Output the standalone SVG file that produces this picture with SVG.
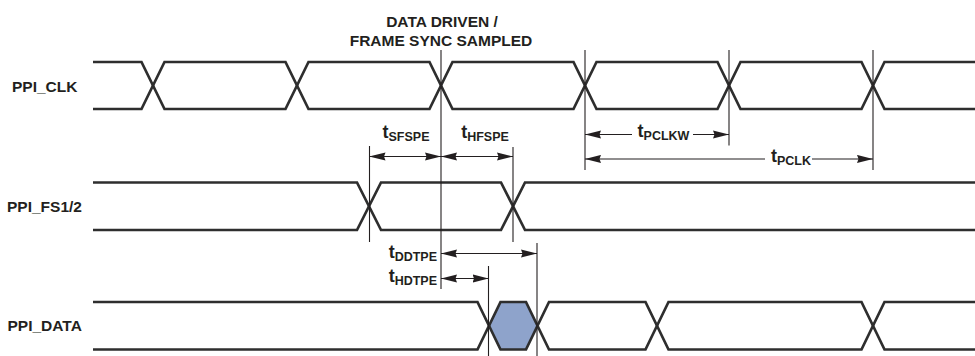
<svg xmlns="http://www.w3.org/2000/svg" width="975" height="356" viewBox="0 0 975 356">
  <style>
    text { font-family: "Liberation Sans", Arial, sans-serif; font-weight: bold; fill: #231f20; }
    .lbl { font-size: 15.5px; }
    .t { font-size: 18px; }
    .sub { font-size: 12.5px; }
    .wave { fill: none; stroke: #2e2e2e; stroke-width: 2.7; stroke-linejoin: miter; }
    .ref { fill: none; stroke: #231f20; stroke-width: 1.1; }
    .dim { fill: none; stroke: #231f20; stroke-width: 1.1; marker-start: url(#ah); marker-end: url(#ah); }
    .dimL { fill: none; stroke: #231f20; stroke-width: 1.1; marker-start: url(#ah); }
    .dimR { fill: none; stroke: #231f20; stroke-width: 1.1; marker-end: url(#ah); }
  </style>
  <defs>
    <marker id="ah" viewBox="0 -4.5 16 9" refX="16" refY="0" markerWidth="16" markerHeight="9" markerUnits="userSpaceOnUse" orient="auto-start-reverse">
      <path d="M0,-4.1 L16,0 L0,4.1 L1.5,0 Z" fill="#231f20"/>
    </marker>
  </defs>
  <rect width="975" height="356" fill="#ffffff"/>

  <g id="title">
    <text class="lbl" x="442" y="26.5" text-anchor="middle">DATA DRIVEN /</text>
    <text class="lbl" x="441" y="45.5" text-anchor="middle">FRAME SYNC SAMPLED</text>
  </g>

  <g id="ppi-clk">
    <text class="lbl" x="12" y="91.5">PPI_CLK</text>
    <path class="wave" d="M93,62 H141.5 L164.5,109 H285.5 L308.5,62 H429.5 L452.5,109 H573.5 L596.5,62 H717.5 L740.5,109 H861.5 L884.5,62 H975"/>
    <path class="wave" d="M93,109 H141.5 L164.5,62 H285.5 L308.5,109 H429.5 L452.5,62 H573.5 L596.5,109 H717.5 L740.5,62 H861.5 L884.5,109 H975"/>
  </g>

  <g id="ppi-fs">
    <text class="lbl" x="7" y="211.7">PPI_FS1/2</text>
    <path class="wave" d="M93,182.5 H357 L381,230 H501 L525,182.5 H975"/>
    <path class="wave" d="M93,230 H357 L381,182.5 H501 L525,230 H975"/>
  </g>

  <g id="ppi-data">
    <text class="lbl" x="7.5" y="330.7">PPI_DATA</text>
    <polygon points="489,325.75 500.5,302 526,302 537.5,325.75 526,349.5 500.5,349.5" fill="#8ea3cb"/>
    <path class="wave" d="M93,302 H477.5 L500.5,349.5 H526 L549,302 H645.5 L668.5,349.5 H861.5 L884.5,302 H975"/>
    <path class="wave" d="M93,349.5 H477.5 L500.5,302 H526 L549,349.5 H645.5 L668.5,302 H861.5 L884.5,349.5 H975"/>
  </g>

  <g id="connectors">
    <line class="ref" x1="441" y1="50" x2="441" y2="289"/>
    <line class="ref" x1="369.5" y1="146" x2="369.5" y2="242"/>
    <line class="ref" x1="513" y1="147" x2="513" y2="242"/>
    <line class="ref" x1="488.5" y1="266" x2="488.5" y2="356"/>
    <line class="ref" x1="537" y1="243" x2="537" y2="356"/>
    <line class="ref" x1="585" y1="50" x2="585" y2="170"/>
    <line class="ref" x1="729" y1="50" x2="729" y2="145.5"/>
    <line class="ref" x1="873" y1="50" x2="873" y2="170"/>

    <line class="dim" x1="369.5" y1="156.5" x2="441" y2="156.5"/>
    <line class="dim" x1="441" y1="156.5" x2="513" y2="156.5"/>
    <line class="dimL" x1="585" y1="134.5" x2="632" y2="134.5"/>
    <line class="dimR" x1="693" y1="134.5" x2="729" y2="134.5"/>
    <line class="dimL" x1="585" y1="159" x2="765" y2="159"/>
    <line class="dimR" x1="812" y1="159" x2="873" y2="159"/>
    <line class="dim" x1="441" y1="253.5" x2="537" y2="253.5"/>
    <line class="dim" x1="441" y1="278.5" x2="488.5" y2="278.5"/>
  </g>

  <g id="timing-labels">
    <text x="406" y="137.5" text-anchor="middle"><tspan class="t">t</tspan><tspan class="sub" dy="3.5">SFSPE</tspan></text>
    <text x="485" y="137.5" text-anchor="middle"><tspan class="t">t</tspan><tspan class="sub" dy="3.5">HFSPE</tspan></text>
    <text x="663.5" y="136.5" text-anchor="middle"><tspan class="t">t</tspan><tspan class="sub" dy="3">PCLKW</tspan></text>
    <text x="791" y="161.5" text-anchor="middle"><tspan class="t">t</tspan><tspan class="sub" dy="3">PCLK</tspan></text>
    <text x="437" y="258" text-anchor="end"><tspan class="t">t</tspan><tspan class="sub" dy="3">DDTPE</tspan></text>
    <text x="437" y="281.5" text-anchor="end"><tspan class="t">t</tspan><tspan class="sub" dy="3">HDTPE</tspan></text>
  </g>
</svg>
